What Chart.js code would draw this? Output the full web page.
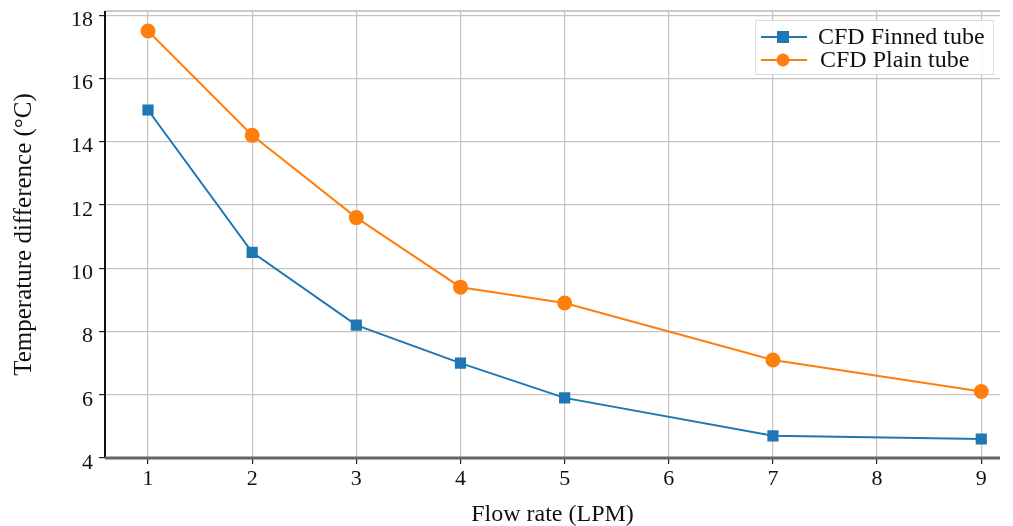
<!DOCTYPE html>
<html>
<head>
<meta charset="utf-8">
<script src="https://cdn.jsdelivr.net/npm/chart.js@4/dist/chart.umd.min.js"></script>
<style>
  html, body { margin: 0; padding: 0; background: #fff; }
  #wrap { width: 1013px; height: 526px; }
</style>
</head>
<body>
<div id="wrap"><canvas id="chart"></canvas></div>
<script>
const flowRates = [1, 2, 3, 4, 5, 7, 9];
const finnedTube = [15.0, 10.5, 8.2, 7.0, 5.9, 4.7, 4.6];
const plainTube = [17.5, 14.2, 11.6, 9.4, 8.9, 7.1, 6.1];
const seriesNames = ['CFD Finned tube', 'CFD Plain tube'];
const xTitle = 'Flow rate (LPM)';
const yTitle = 'Temperature difference (°C)';

const FONT = '"Liberation Serif", "Times New Roman", serif';
const BLUE = '#1f77b4';
const ORANGE = '#ff7f0e';

const toPoints = vals => flowRates.map((x, i) => ({ x: x, y: vals[i] }));

// frame + legend box, drawn like the original figure
const framePlugin = {
    id: 'frame',
    beforeDatasetsDraw(chart) {
        const { ctx, chartArea: a } = chart;
        ctx.save();
        ctx.strokeStyle = '#b8b8b8';
        ctx.lineWidth = 1.5;
        ctx.beginPath();
        ctx.moveTo(a.left, a.top);
        ctx.lineTo(a.right, a.top);
        ctx.stroke();
        ctx.restore();
    },
    afterDraw(chart) {
        const { ctx, chartArea: a } = chart;
        ctx.save();
        // axis lines
        ctx.strokeStyle = '#111';
        ctx.lineWidth = 2;
        ctx.beginPath();
        ctx.moveTo(a.left, a.top);
        ctx.lineTo(a.left, a.bottom);
        ctx.stroke();
        ctx.strokeStyle = '#666';
        ctx.lineWidth = 3;
        ctx.beginPath();
        ctx.moveTo(a.left, a.bottom);
        ctx.lineTo(a.right, a.bottom);
        ctx.stroke();

        // legend
        const bx = 755, by = 20, bw = 238, bh = 54;
        ctx.fillStyle = 'rgba(255,255,255,0.9)';
        ctx.fillRect(bx, by, bw, bh);
        ctx.strokeStyle = '#ddd';
        ctx.lineWidth = 1;
        ctx.strokeRect(bx + 0.5, by + 0.5, bw, bh);
        chart.data.datasets.forEach((ds, i) => {
            const y = by + 17 + i * 23;
            ctx.strokeStyle = ds.borderColor;
            ctx.lineWidth = 2;
            ctx.beginPath();
            ctx.moveTo(761, y);
            ctx.lineTo(807, y);
            ctx.stroke();
            ctx.fillStyle = ds.backgroundColor;
            if (ds.pointStyle === 'rect') {
                ctx.fillRect(777, y - 6, 12, 12);
            } else {
                ctx.beginPath();
                ctx.arc(783, y, 6.5, 0, Math.PI * 2);
                ctx.fill();
            }
            ctx.fillStyle = '#111';
            ctx.font = '24px ' + FONT;
            ctx.textBaseline = 'middle';
            ctx.fillText(ds.label, 818 + i * 2, y + 1);
        });
        ctx.restore();
    }
};

new Chart(document.getElementById('chart'), {
    type: 'line',
    data: {
        datasets: [{
            label: seriesNames[0],
            data: toPoints(finnedTube),
            borderColor: BLUE,
            backgroundColor: BLUE,
            borderWidth: 2,
            pointStyle: 'rect',
            pointRadius: 6.5,
            pointHoverRadius: 6.5,
            tension: 0
        }, {
            label: seriesNames[1],
            data: toPoints(plainTube),
            borderColor: ORANGE,
            backgroundColor: ORANGE,
            borderWidth: 2,
            pointStyle: 'circle',
            pointRadius: 6.5,
            pointHoverRadius: 6.5,
            tension: 0
        }]
    },
    options: {
        responsive: true,
        maintainAspectRatio: false,
        animation: false,
        layout: { padding: { left: 0, top: 11, right: 13, bottom: 0 } },
        plugins: {
            legend: { display: false },
            tooltip: { enabled: false }
        },
        scales: {
            x: {
                type: 'linear',
                min: 0.587,
                max: 9.18,
                afterFit: s => { s.height = 68; s.paddingLeft = 0; s.paddingRight = 0; },
                afterBuildTicks: s => {
                    s.ticks = [1, 2, 3, 4, 5, 6, 7, 8, 9].map(v => ({ value: v }));
                },
                border: { display: false },
                grid: {
                    color: '#c4c4c4',
                    lineWidth: 1.2,
                    drawTicks: true,
                    tickLength: 6,
                    tickColor: '#222'
                },
                ticks: {
                    color: '#111',
                    font: { family: FONT, size: 22 },
                    padding: 2,
                    maxRotation: 0
                },
                title: {
                    display: true,
                    text: xTitle,
                    color: '#111',
                    font: { family: FONT, size: 24 },
                    padding: { top: 10, bottom: -3 }
                }
            },
            y: {
                min: 4,
                max: 18.13,
                afterFit: s => { s.width = 105; s.paddingTop = 0; s.paddingBottom = 0; },
                afterBuildTicks: s => {
                    s.ticks = [4, 6, 8, 10, 12, 14, 16, 18].map(v => ({ value: v }));
                },
                border: { display: false },
                grid: {
                    color: '#c4c4c4',
                    lineWidth: 1.2,
                    drawTicks: true,
                    tickLength: 6,
                    tickColor: '#222'
                },
                ticks: {
                    color: '#111',
                    font: { family: FONT, size: 22 },
                    padding: 6,
                    labelOffset: 5
                },
                title: {
                    display: true,
                    text: yTitle,
                    color: '#111',
                    font: { family: FONT, size: 25 },
                    padding: { top: 9, bottom: 0 }
                }
            }
        }
    },
    plugins: [framePlugin]
});
</script>
</body>
</html>
